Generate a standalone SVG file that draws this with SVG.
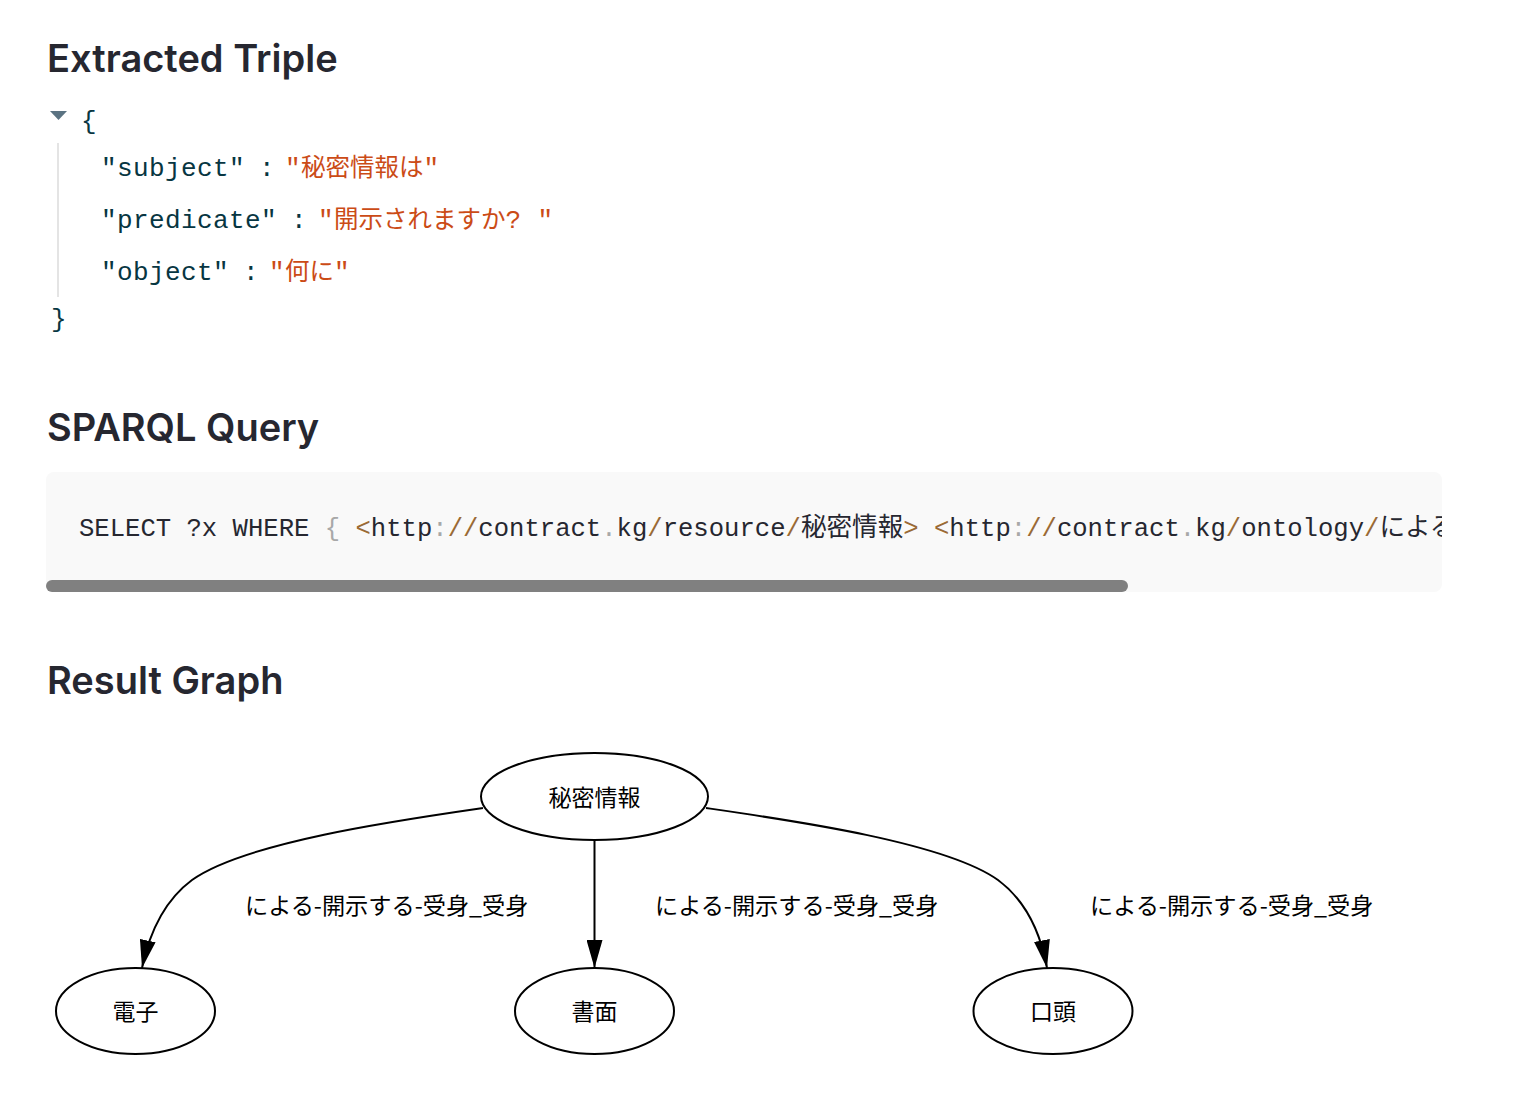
<svg xmlns="http://www.w3.org/2000/svg" width="1518" height="1108" viewBox="0 0 1518 1108">
<style>
.h{font-family:Inter,"Noto Sans","Noto Sans CJK JP",sans-serif;font-weight:600;font-size:38px;fill:#262730}
.m{font-family:"Liberation Mono","Noto Sans CJK JP",monospace;font-size:26px;letter-spacing:0.4px}
.k{fill:#073642}
.s{fill:#cb4b16}
.jp{font-family:"Noto Sans CJK JP",sans-serif;font-size:24.5px;letter-spacing:0}
.q{font-family:"Liberation Mono","Noto Sans CJK JP",monospace;font-size:25.6px;fill:#262730}
.br{fill:#9a6a35}
.gr{fill:#a8a8a8}
.lbl{font-family:"Noto Sans CJK JP",sans-serif;font-size:23px;fill:#000}
.el{font-family:"Noto Sans CJK JP",sans-serif;font-size:23.2px;fill:#000}
.node ellipse{fill:#fff;stroke:#000;stroke-width:2}
.edge{fill:none;stroke:#000;stroke-width:2}
</style>
<defs>
<marker id="ah" viewBox="0 0 28 16" refX="28" refY="8" markerWidth="28" markerHeight="16" markerUnits="userSpaceOnUse" orient="auto">
<path d="M0,0 L28,8 L0,16 Z" fill="#000"/>
</marker>
<clipPath id="cc"><rect x="46" y="472" width="1396" height="120"/></clipPath>
</defs>
<rect width="1518" height="1108" fill="#fff"/>

<g id="title-extracted"><text class="h" x="47" y="72">Extracted Triple</text></g>

<g id="json">
<path d="M50,111 L67,111 L58.5,120 Z" fill="#5b7382"/>
<text class="m k" x="81" y="129">{</text>
<rect x="57" y="143" width="2" height="154" fill="#e4e4e4"/>
<text class="m" y="176"><tspan class="k" x="101">"subject"</tspan><tspan class="k" x="259">:</tspan><tspan class="s" x="285">"</tspan><tspan class="s jp">秘密情報は</tspan><tspan class="s">"</tspan></text>
<text class="m" y="228"><tspan class="k" x="101">"predicate"</tspan><tspan class="k" x="291">:</tspan><tspan class="s" x="318">"</tspan><tspan class="s jp">開示されますか</tspan><tspan class="s">? "</tspan></text>
<text class="m" y="280"><tspan class="k" x="101">"object"</tspan><tspan class="k" x="243">:</tspan><tspan class="s" x="269">"</tspan><tspan class="s jp">何に</tspan><tspan class="s">"</tspan></text>
<text class="m k" x="51" y="327">}</text>
</g>

<g id="title-sparql"><text class="h" x="47" y="441">SPARQL Query</text></g>

<g id="sparql">
<rect x="46" y="472" width="1396" height="120" rx="8" fill="#f9f9f9"/>
<g clip-path="url(#cc)">
<text class="q" x="79" y="536">SELECT ?x WHERE <tspan class="gr">{</tspan> <tspan class="br">&lt;</tspan>http<tspan class="gr">:</tspan><tspan class="br">//</tspan>contract<tspan class="gr">.</tspan>kg<tspan class="br">/</tspan>resource<tspan class="br">/</tspan>秘密情報<tspan class="br">&gt;</tspan> <tspan class="br">&lt;</tspan>http<tspan class="gr">:</tspan><tspan class="br">//</tspan>contract<tspan class="gr">.</tspan>kg<tspan class="br">/</tspan>ontology<tspan class="br">/</tspan>による</text>
</g>
<rect x="46" y="580" width="1082" height="12" rx="6" fill="#808080"/>
</g>

<g id="title-result"><text class="h" x="47" y="694">Result Graph</text></g>

<g id="edges">
<path class="edge" d="M483,808 C400,820 245,842 192,880 C165,900 150,930 142,968" marker-end="url(#ah)"/>
<path class="edge" d="M594.5,840 L594.5,968" marker-end="url(#ah)"/>
<path class="edge" d="M706,808 C789,820 945,842 998,880 C1025,900 1040,930 1047,968" marker-end="url(#ah)"/>
<text class="el" x="245" y="914">による-開示する-受身_受身</text>
<text class="el" x="655" y="914">による-開示する-受身_受身</text>
<text class="el" x="1090" y="914">による-開示する-受身_受身</text>
</g>

<g id="n-himitsu" class="node"><ellipse cx="594.5" cy="796.5" rx="113.5" ry="43.5"/><text class="lbl" x="594.5" y="806" text-anchor="middle">秘密情報</text></g>
<g id="n-denshi" class="node"><ellipse cx="135.5" cy="1011" rx="79.5" ry="43"/><text class="lbl" x="135.5" y="1020" text-anchor="middle">電子</text></g>
<g id="n-shomen" class="node"><ellipse cx="594.5" cy="1011" rx="79.5" ry="43"/><text class="lbl" x="594.5" y="1020" text-anchor="middle">書面</text></g>
<g id="n-koto" class="node"><ellipse cx="1053" cy="1011" rx="79.5" ry="43"/><text class="lbl" x="1053" y="1020" text-anchor="middle">口頭</text></g>
</svg>
